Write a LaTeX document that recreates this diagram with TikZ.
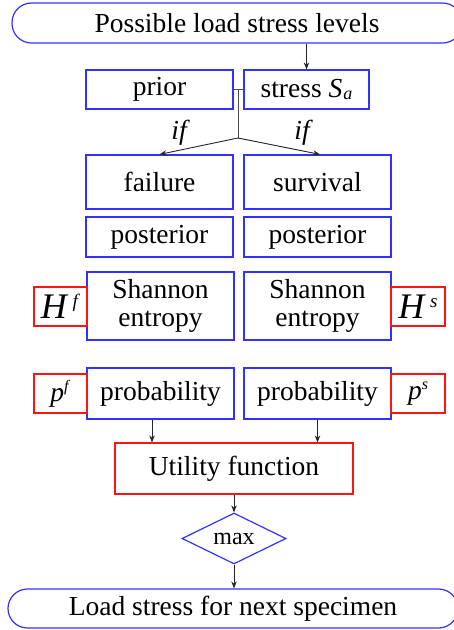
\documentclass[tikz,border=0pt]{standalone}
\usepackage{fontspec}
\setmainfont{Liberation Serif}
\usetikzlibrary{shapes.geometric,arrows.meta,calc}
\definecolor{bx}{RGB}{50,50,255}
\definecolor{rx}{RGB}{255,20,20}
\tikzset{
  px/.style={x=1pt,y=-1pt},
  bbox/.style={draw=bx,line width=1.2pt,inner sep=0pt,align=center,font=\fontsize{27.5}{28}\selectfont},
  rbox/.style={draw=rx,line width=1.2pt,inner sep=0pt,align=center,font=\fontsize{27.5}{28}\selectfont},
  term/.style={bbox,rounded corners=19.5pt},
  arr/.style={-{Stealth[length=7pt,width=5.5pt]},line width=0.9pt,draw=black!85},
  lbl/.style={inner sep=0pt,font=\fontsize{27.5}{28}\selectfont\itshape}
}
\begin{document}
\begin{tikzpicture}[px]
\useasboundingbox (0,0) rectangle (454,630);
\node[term,minimum width=450pt,minimum height=40pt] (top) at (237,23) {Possible load stress levels};
\node[bbox,minimum width=147pt,minimum height=39pt] (prior) at (159.5,89.5) {prior};
\node[bbox,minimum width=125pt,minimum height=39pt] (stress) at (306.5,89.5) {stress \textit{S}\kern1pt{\fontsize{18}{18}\selectfont\raisebox{-2pt}{\textit{a}}}};
\node[bbox,minimum width=147pt,minimum height=54pt] (fail) at (159.5,182) {failure};
\node[bbox,minimum width=147pt,minimum height=54pt] (surv) at (317.5,182) {survival};
\node[bbox,minimum width=147pt,minimum height=40pt] (postL) at (159.5,237) {posterior};
\node[bbox,minimum width=147pt,minimum height=40pt] (postR) at (317.5,237) {posterior};
\node[bbox,minimum width=147pt,minimum height=68pt] (shanL) at (160.5,306) {Shannon\\entropy};
\node[bbox,minimum width=147pt,minimum height=68pt] (shanR) at (317.5,306) {Shannon\\entropy};
\node[rbox,minimum width=53pt,minimum height=39pt] (Hf) at (60.5,306.5) {{\fontsize{36}{36}\selectfont\textit{H}}\kern4pt\raisebox{11pt}{\fontsize{19}{19}\selectfont\textit{f}}};
\node[rbox,minimum width=54pt,minimum height=39pt] (Hs) at (418,306.5) {{\fontsize{36}{36}\selectfont\textit{H}}\kern4pt\raisebox{11pt}{\fontsize{19}{19}\selectfont\textit{s}}};
\node[bbox,minimum width=147pt,minimum height=51pt] (probL) at (160.5,393.5) {probability};
\node[bbox,minimum width=147pt,minimum height=51pt] (probR) at (317.5,393.5) {probability};
\node[rbox,minimum width=53pt,minimum height=39pt] (pf) at (60.5,393.5) {\textit{p}\raisebox{10pt}{\fontsize{16}{16}\selectfont\textit{f}}};
\node[rbox,minimum width=54pt,minimum height=39pt] (ps) at (418,393.5) {\textit{p}\raisebox{10pt}{\fontsize{16}{16}\selectfont\textit{s}}};
\node[rbox,minimum width=238pt,minimum height=51pt] (util) at (234,468.5) {Utility function};
\node[bbox,diamond,aspect=2,minimum width=104pt,minimum height=51pt,font=\fontsize{24}{24}\selectfont] (max) at (234,538.5) {max};
\node[term,minimum width=450pt,minimum height=39pt] (bot) at (233,608.5) {Load stress for next specimen};
\coordinate (jtop) at (238,89.5);
\coordinate (j) at (238,138);
\draw[arr] (top.south -| stress) -- (stress.north);
\draw[line width=0.9pt,draw=black!70] (prior.east) -- (stress.west);
\draw[line width=0.9pt,draw=black!70] (jtop) -- (j);
\draw[arr] (j) -- (fail.north);
\draw[arr] (j) -- ([xshift=2.5pt]surv.north);
\node[lbl] (if1) at (179,133) {if};
\node[lbl] (if2) at (302,133) {if};
\draw[arr] ([xshift=-8.5pt]probL.south) -- ([xshift=-8.5pt]probL.south |- util.north);
\draw[arr] (probR.south) -- (probR.south |- util.north);
\draw[arr] (util.south) -- (max.north);
\draw[arr] (max.south) -- (max.south |- bot.north);
\end{tikzpicture}
\end{document}
